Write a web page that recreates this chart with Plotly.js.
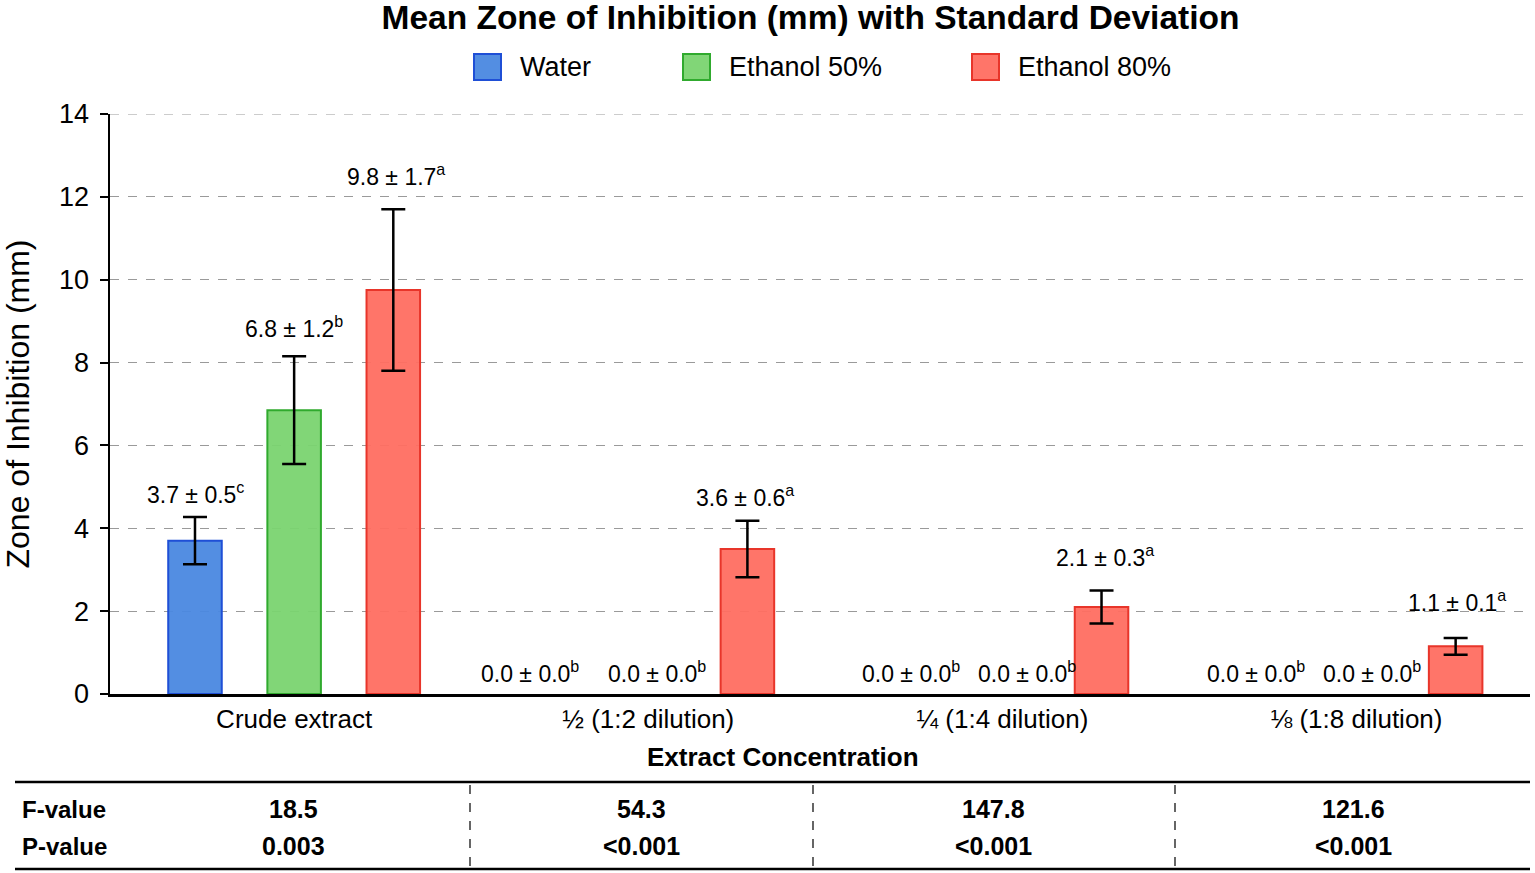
<!DOCTYPE html>
<html>
<head>
<meta charset="utf-8">
<script src="https://cdn.plot.ly/plotly-3.0.1.min.js"></script>
<style>
  html, body { margin: 0; padding: 0; background: #fff; }
  #chart { width: 1535px; height: 873px; }
</style>
</head>
<body>
<div id="chart"></div>
<script>
// categories and series
const categories = ["Crude extract", "½ (1:2 dilution)", "¼ (1:4 dilution)", "⅛ (1:8 dilution)"];
const seriesNames = ["Water", "Ethanol 50%", "Ethanol 80%"];

const waterMean = [3.7, 0, 0, 0];
const waterSd = [0.57, 0, 0, 0];
const eth50Mean = [6.85, 0, 0, 0];
const eth50Sd = [1.3, 0, 0, 0];
const eth80Mean = [9.75, 3.5, 2.1, 1.15];
const eth80Sd = [1.95, 0.68, 0.4, 0.2];

// printed labels (mean ± SD with significance letter)
const waterLabel = ["3.7 ± 0.5", "0.0 ± 0.0", "0.0 ± 0.0", "0.0 ± 0.0"];
const waterLetter = ["c", "b", "b", "b"];
const eth50Label = ["6.8 ± 1.2", "0.0 ± 0.0", "0.0 ± 0.0", "0.0 ± 0.0"];
const eth50Letter = ["b", "b", "b", "b"];
const eth80Label = ["9.8 ± 1.7", "3.6 ± 0.6", "2.1 ± 0.3", "1.1 ± 0.1"];
const eth80Letter = ["a", "a", "a", "a"];

// ANOVA table
const fValues = ["18.5", "54.3", "147.8", "121.6"];
const pValues = ["0.003", "<0.001", "<0.001", "<0.001"];

const fillColors = ["rgba(74,136,224,0.95)", "rgba(122,212,112,0.95)", "rgba(255,110,97,0.95)"];
const lineColors = ["#1f4fd6", "#30aa2e", "#e8352a"];

const means = [waterMean, eth50Mean, eth80Mean];
const sds = [waterSd, eth50Sd, eth80Sd];
const labels = [waterLabel, eth50Label, eth80Label];
const letters = [waterLetter, eth50Letter, eth80Letter];

const FONT = "Liberation Sans, Arial, sans-serif";

// plot area in pixels (for placing the legend and table)
const L = 110, R = 1530, T = 114, B = 694;
const px = (x) => (x - L) / (R - L);
const py = (y) => (B - y) / (B - T);

let traces = seriesNames.map((name, s) => ({
  type: "bar",
  name: name,
  x: categories,
  y: means[s].map(v => v > 0 ? v : null),
  marker: { color: fillColors[s], line: { color: lineColors[s], width: 2 } },
  error_y: {
    type: "data",
    array: sds[s],
    visible: true,
    color: "#000",
    thickness: 2.5,
    width: 12
  },
  hoverinfo: "skip"
}));

// label placement nudges (px): horizontal offset from group centre, lift above the error bar
const labelShiftX = [[-99, -118, -91, -100], [0, 9, 25, 16], [102, 97, 103, 101]];
const labelLift = [[24, 22, 22, 22], [29, 22, 22, 22], [34, 25, 34, 37]];

let annotations = [];
seriesNames.forEach((name, s) => {
  categories.forEach((c, i) => {
    annotations.push({
      xref: "x", yref: "y",
      x: c, y: means[s][i] + sds[s][i],
      xshift: labelShiftX[s][i],
      yshift: labelLift[s][i],
      yanchor: "middle",
      showarrow: false,
      text: labels[s][i] + "<sup>" + letters[s][i] + "</sup>",
      font: { family: FONT, size: 23, color: "#000" }
    });
  });
});

// custom legend
let shapes = [];
const legendX = [474, 683, 972];
const legendY = 67;
seriesNames.forEach((name, s) => {
  shapes.push({
    type: "rect", xref: "paper", yref: "paper",
    x0: px(legendX[s]), x1: px(legendX[s] + 27),
    y0: py(legendY + 13), y1: py(legendY - 13),
    fillcolor: fillColors[s],
    line: { color: lineColors[s], width: 2 }
  });
  annotations.push({
    xref: "paper", yref: "paper",
    x: px(legendX[s] + 44), y: py(legendY),
    xanchor: "left", yanchor: "middle",
    showarrow: false,
    text: name,
    font: { family: FONT, size: 27, color: "#000" }
  });
});

// top gridline (plotly drops the one on the plot edge)
shapes.push({
  type: "line", xref: "paper", yref: "y", x0: 0, x1: 1, y0: 14, y1: 14,
  line: { color: "#9a9a9a", width: 1, dash: "dash" }, layer: "below"
});

// x axis title
annotations.push({
  xref: "paper", yref: "paper", x: px(783), y: py(757),
  xanchor: "center", yanchor: "middle", showarrow: false,
  text: "<b>Extract Concentration</b>",
  font: { family: FONT, size: 26, color: "#000" }
});

// table below the chart
shapes.push({ type: "line", xref: "paper", yref: "paper", x0: px(15), x1: px(1530), y0: py(782), y1: py(782), line: { color: "#000", width: 2.5 } });
shapes.push({ type: "line", xref: "paper", yref: "paper", x0: px(15), x1: px(1530), y0: py(869), y1: py(869), line: { color: "#000", width: 2.5 } });
[470, 813, 1175].forEach(xv => {
  shapes.push({ type: "line", xref: "paper", yref: "paper", x0: px(xv), x1: px(xv), y0: py(785), y1: py(866), line: { color: "#000", width: 1.2, dash: "dash" } });
});

const rowY = [809, 846];
const rowNames = ["F-value", "P-value"];
const colX = [293, 641, 994, 1353];
rowNames.forEach((r, k) => {
  annotations.push({
    xref: "paper", yref: "paper", x: px(20), y: py(rowY[k]),
    xanchor: "left", yanchor: "middle", showarrow: false,
    text: "<b>" + r + "</b>",
    font: { family: FONT, size: 24, color: "#000" }
  });
});
categories.forEach((c, i) => {
  [fValues[i], pValues[i]].forEach((v, k) => {
    annotations.push({
      xref: "paper", yref: "paper", x: px(colX[i]), y: py(rowY[k]),
      xanchor: "center", yanchor: "middle", showarrow: false,
      text: "<b>" + v + "</b>",
      font: { family: FONT, size: 25, color: "#000" }
    });
  });
});

const layout = {
  width: 1535,
  height: 873,
  margin: { l: L, r: 1535 - R, t: T, b: 873 - B },
  paper_bgcolor: "#fff",
  plot_bgcolor: "#fff",
  showlegend: false,
  barmode: "group",
  bargap: 0.16,
  bargroupgap: 0.46,
  title: {
    text: "<b>Mean Zone of Inhibition (mm) with Standard Deviation</b>",
    font: { family: FONT, size: 33.5, color: "#000" },
    xref: "container", x: 0.528, xanchor: "center",
    yref: "container", y: 1 - 17 / 873, yanchor: "middle"
  },
  xaxis: {
    type: "category",
    range: [-0.52, 3.49],
    showline: true, linecolor: "#000", linewidth: 2.5,
    ticks: "",
    showgrid: false,
    tickfont: { family: FONT, size: 26, color: "#000" }
  },
  yaxis: {
    range: [0, 14],
    tickvals: [0, 2, 4, 6, 8, 10, 12, 14],
    showline: true, linecolor: "#000", linewidth: 2.5,
    ticks: "outside", ticklen: 8, tickwidth: 2, tickcolor: "#000",
    ticklabelstandoff: 5,
    showgrid: true, gridcolor: "#9a9a9a", gridwidth: 1, griddash: "dash",
    zeroline: false,
    tickfont: { family: FONT, size: 27, color: "#000" },
    title: {
      text: "Zone of Inhibition (mm)",
      font: { family: FONT, size: 32, color: "#000" },
      standoff: 28
    }
  },
  annotations: annotations,
  shapes: shapes
};

Plotly.newPlot("chart", traces, layout, { displayModeBar: false, staticPlot: true });
</script>
</body>
</html>
